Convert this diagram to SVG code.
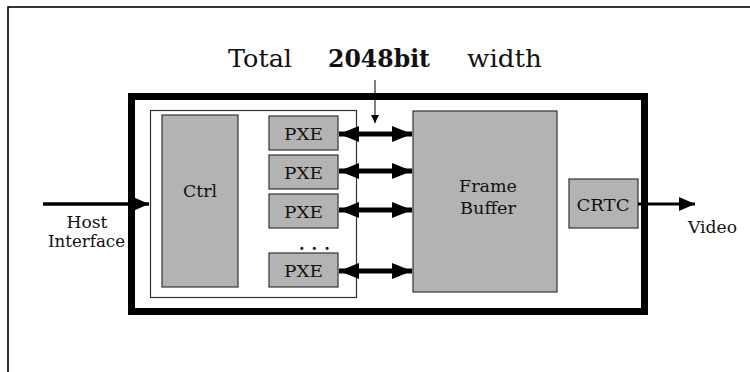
<svg xmlns="http://www.w3.org/2000/svg" width="750" height="372" viewBox="0 0 750 372">
<style>
text{font-family:"DejaVu Serif","Liberation Serif",serif;fill:#111}
.box{fill:#b3b3b3;stroke:#333;stroke-width:1.2}
.lbl{font-size:17px;text-anchor:middle}
.bus{stroke:#000;stroke-width:5;fill:none}
</style>
<defs>
<marker id="hd" viewBox="0 0 20 16" refX="20" refY="8" markerWidth="20" markerHeight="16" markerUnits="userSpaceOnUse" orient="auto-start-reverse"><path d="M0,0L20,8L0,16Z" fill="#000"/></marker>
<marker id="hs" viewBox="0 0 16 14" refX="16" refY="7" markerWidth="16" markerHeight="14" markerUnits="userSpaceOnUse" orient="auto"><path d="M0,0L16,7L0,14Z" fill="#000"/></marker>
<marker id="ht" viewBox="0 0 8 8" refX="4" refY="8" markerWidth="8" markerHeight="8" markerUnits="userSpaceOnUse" orient="0"><path d="M0,0L8,0L4,8Z" fill="#000"/></marker>
</defs>
<rect width="750" height="372" fill="#fff"/>
<rect x="8" y="7" width="800" height="420" fill="none" stroke="#000" stroke-width="1.6"/>
<g id="title">
<text x="228" y="67" font-size="25" textLength="64" lengthAdjust="spacingAndGlyphs">Total</text>
<text x="328" y="67" font-size="25" font-weight="bold" textLength="102" lengthAdjust="spacingAndGlyphs">2048bit</text>
<text x="467" y="67" font-size="25" textLength="75" lengthAdjust="spacingAndGlyphs">width</text>
</g>
<g id="system"><rect x="131.5" y="96.5" width="513" height="215" fill="none" stroke="#000" stroke-width="7"/></g>
<g id="pxe-array"><rect x="150.5" y="110.5" width="206" height="187" fill="#fff" stroke="#333" stroke-width="1.2"/></g>
<g id="ctrl"><rect class="box" x="162" y="115" width="76" height="172"/><text class="lbl" x="200" y="197" textLength="34" lengthAdjust="spacingAndGlyphs">Ctrl</text></g>
<g id="pxe1"><rect class="box" x="269" y="116" width="69" height="34"/><text class="lbl" x="303.5" y="140" textLength="39" lengthAdjust="spacingAndGlyphs">PXE</text></g>
<g id="pxe2"><rect class="box" x="269" y="155" width="69" height="34"/><text class="lbl" x="303.5" y="179" textLength="39" lengthAdjust="spacingAndGlyphs">PXE</text></g>
<g id="pxe3"><rect class="box" x="269" y="194" width="69" height="34"/><text class="lbl" x="303.5" y="218" textLength="39" lengthAdjust="spacingAndGlyphs">PXE</text></g>
<g id="dots"><text x="299" y="250" font-size="16" font-weight="bold" letter-spacing="7">...</text></g>
<g id="pxe4"><rect class="box" x="269" y="253" width="69" height="34"/><text class="lbl" x="303.5" y="277" textLength="39" lengthAdjust="spacingAndGlyphs">PXE</text></g>
<g id="framebuffer"><rect class="box" x="413" y="111" width="144" height="181"/><text class="lbl" x="488" y="192" textLength="58" lengthAdjust="spacingAndGlyphs">Frame</text><text class="lbl" x="488" y="214" textLength="56" lengthAdjust="spacingAndGlyphs">Buffer</text></g>
<g id="crtc"><rect class="box" x="569" y="179" width="69" height="49"/><text class="lbl" x="603" y="211" textLength="53" lengthAdjust="spacingAndGlyphs">CRTC</text></g>
<g id="host-label"><text class="lbl" x="87" y="228" textLength="41" lengthAdjust="spacingAndGlyphs">Host</text><text class="lbl" x="86.5" y="247" textLength="77" lengthAdjust="spacingAndGlyphs">Interface</text></g>
<g id="video-label"><text x="688" y="233" font-size="17" textLength="49" lengthAdjust="spacingAndGlyphs">Video</text></g>
<g id="connectors">
<line class="bus" x1="339" y1="134" x2="412" y2="134" marker-start="url(#hd)" marker-end="url(#hd)"/>
<line class="bus" x1="339" y1="171" x2="412" y2="171" marker-start="url(#hd)" marker-end="url(#hd)"/>
<line class="bus" x1="339" y1="210" x2="412" y2="210" marker-start="url(#hd)" marker-end="url(#hd)"/>
<line class="bus" x1="339" y1="271" x2="412" y2="271" marker-start="url(#hd)" marker-end="url(#hd)"/>
<line x1="43" y1="204" x2="149" y2="204" stroke="#000" stroke-width="3.5" marker-end="url(#hs)"/>
<line x1="638" y1="204" x2="695" y2="204" stroke="#000" stroke-width="3" marker-end="url(#hs)"/>
<line x1="375" y1="80" x2="375" y2="123" stroke="#000" stroke-width="1" marker-end="url(#ht)"/>
</g>
</svg>
